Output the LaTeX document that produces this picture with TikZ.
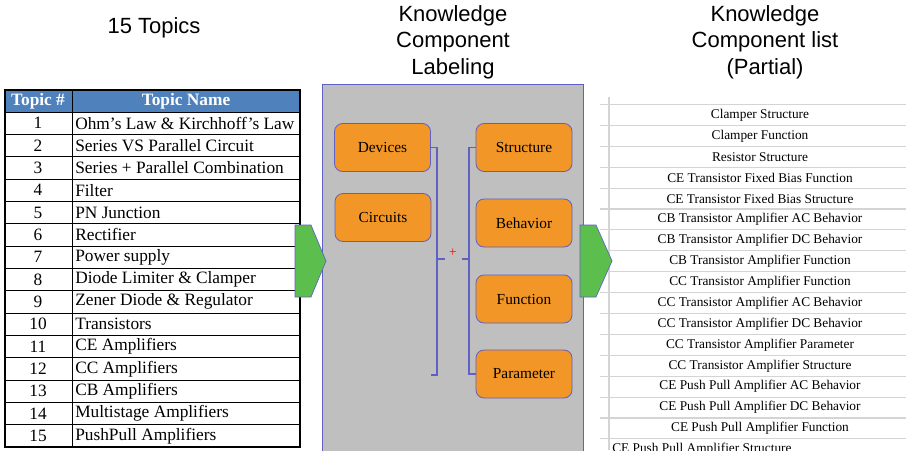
\documentclass[tikz,border=0pt]{standalone}
\usepackage{fontspec}
\setmainfont{Liberation Serif}
\newfontfamily\headfont{Liberation Sans}

\definecolor{hdrblue}{RGB}{79,129,189}
\definecolor{panelgray}{RGB}{191,191,191}
\definecolor{edgeblue}{RGB}{96,96,196}
\definecolor{kcorange}{RGB}{242,150,40}
\definecolor{arrowgreen}{RGB}{92,190,76}
\definecolor{gridgray}{RGB}{212,212,212}

\tikzset{
  title/.style={font=\fontsize{16.5}{20}\selectfont\headfont, align=center},
  cell/.style={font=\fontsize{13}{15}\selectfont, inner sep=0pt},
  kcbox/.style={draw=edgeblue, fill=kcorange, rounded corners=6pt, minimum width=72pt, minimum height=36pt, font=\fontsize{11.5}{13}\selectfont, line width=0.6pt},
  brace/.style={edgeblue, line width=0.8pt},
  item/.style={font=\fontsize{10}{12}\selectfont, inner sep=0pt}
}

\begin{document}
\begin{tikzpicture}[x=0.75pt, y=-0.75pt]
				\useasboundingbox (0,0) rectangle (906,450);
				\clip (0,0) rectangle (906,450);
				\fill[white] (0,0) rectangle (906,450);
				\node[title] (ttopics) at (154,28) {15 Topics};
				\node[title] (tlabel) at (453,42) {Knowledge\\Component\\Labeling};
				\node[title] (tlist) at (765,42) {Knowledge\\Component list\\(Partial)};
				\fill[hdrblue] (5,90) rectangle (300,112);
				\node[cell, white, font=\fontsize{13}{15}\selectfont\bfseries] (hnum) at (38,101) {Topic \#};
				\node[cell, white, font=\fontsize{13}{15}\selectfont\bfseries] (hname) at (186,101) {Topic Name};
				\foreach \n/\t [count=\i] in {1/{Ohm's Law \& Kirchhoff's Law}, 2/{Series VS Parallel Circuit}, 3/{Series + Parallel Combination}, 4/Filter, 5/{PN Junction}, 6/Rectifier, 7/{Power supply}, 8/{Diode Limiter \& Clamper}, 9/{Zener Diode \& Regulator}, 10/Transistors, 11/{CE Amplifiers}, 12/{CC Amplifiers}, 13/{CB Amplifiers}, 14/{Multistage Amplifiers}, 15/{PushPull Amplifiers}} {
					\node[cell] (num\i) at (38, {112+22.33*(\i-0.5)}) {\n};
					\node[cell, anchor=west] (name\i) at (75, {112+22.33*(\i-0.5)}) {\t};
				}
				\foreach \i in {0,...,14} \draw[line width=0.6pt] (5, {112+22.33*\i}) -- (300, {112+22.33*\i});
				\draw[line width=0.6pt] (72,90) -- (72,447);
				\draw[line width=1.6pt] (5,90) rectangle (300,447);
				\fill[panelgray] (322,84) rectangle (583,452);
				\draw[edgeblue, line width=0.6pt] (322,452) -- (322,84) -- (583,84) -- (583,452);
				\node[kcbox] (dev) at (382.5,147.5) {Devices};
				\node[kcbox] (cir) at (383,217.5) {Circuits};
				\node[kcbox] (str) at (524,147.5) {Structure};
				\node[kcbox] (beh) at (524,223) {Behavior};
				\node[kcbox] (fun) at (524,299) {Function};
				\node[kcbox] (par) at (524,374) {Parameter};
				\coordinate (lbr) at (437,259);
				\coordinate (lstub) at (445,259);
				\coordinate (lbend) at (431,375);
				\coordinate (rbr) at (469,259);
				\coordinate (rstub) at (462,259);
				\draw[brace] (dev.east) -| (lbr) |- (lbend);
				\draw[brace] (lbr) -- (lstub);
				\draw[brace] (str.west) -| (rbr) |- (par.west);
				\draw[brace] (rstub) -- (rbr);
				\node[red, font=\fontsize{10}{12}\selectfont, inner sep=0pt] (plus) at (453,253) {+};
				\draw[gridgray, line width=0.8pt] (609,97) -- (609,450);
				\foreach \i in {0,...,16} \draw[gridgray, line width=0.8pt] (600, {104.5+20.9*\i}) -- (906, {104.5+20.9*\i});
				\foreach \t [count=\i] in {Clamper Structure, Clamper Function, Resistor Structure, CE Transistor Fixed Bias Function, CE Transistor Fixed Bias Structure, CB Transistor Amplifier AC Behavior, CB Transistor Amplifier DC Behavior, CB Transistor Amplifier Function, CC Transistor Amplifier Function, CC Transistor Amplifier AC Behavior, CC Transistor Amplifier DC Behavior, CC Transistor Amplifier Parameter, CC Transistor Amplifier Structure, CE Push Pull Amplifier AC Behavior, CE Push Pull Amplifier DC Behavior, CE Push Pull Amplifier Function}
					\node[item] (kc\i) at (760, {115+20.9*(\i-1)}) {\t};
				\node[item, anchor=west] (kc17) at (612, 449.5) {CE Push Pull Amplifier Structure};
				\draw[edgeblue, fill=arrowgreen, line width=0.5pt] (295,225) -- (311,225) -- (326,261) -- (311,297) -- (295,297) -- cycle;
				\draw[edgeblue, fill=arrowgreen, line width=0.5pt] (580,225) -- (596,225) -- (612,261) -- (596,297) -- (580,297) -- cycle;
		\end{tikzpicture}
\end{document}
